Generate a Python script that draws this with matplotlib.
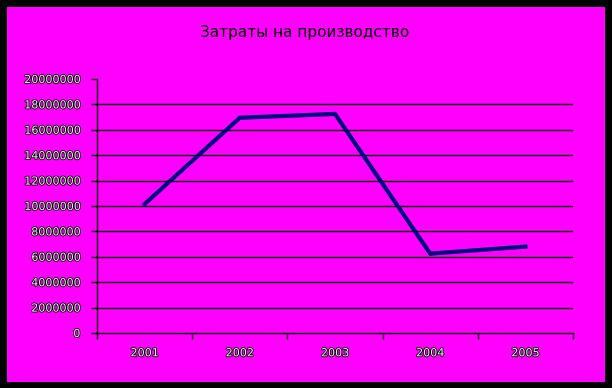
import matplotlib
matplotlib.use("Agg")
import matplotlib.pyplot as plt
import matplotlib.patheffects as pe
from matplotlib.patches import Rectangle

years = ["2001", "2002", "2003", "2004", "2005"]
costs = [10150000, 16950000, 17250000, 6250000, 6800000]
yticks = list(range(0, 20000001, 2000000))
title = "Затраты на производство"

W, H = 612, 388
fig = plt.figure(figsize=(W / 100, H / 100), dpi=100)
fig.patch.set_facecolor("black")
fig.add_artist(Rectangle((7 / W, 1 - 382 / H), (605 - 7) / W, (382 - 7) / H,
                         transform=fig.transFigure, facecolor="#ff00ff",
                         edgecolor="none", zorder=0))

ax = fig.add_axes([97 / W, 1 - 333 / H, (573 - 97) / W, (333 - 79) / H])
ax.set_facecolor("none")
x = list(range(1, len(years) + 1))
ax.plot(x, costs, color="#000080", lw=3, solid_joinstyle="miter", zorder=3)

ax.set_xlim(0.5, len(years) + 0.5)
ax.set_ylim(0, 20000000)
ax.set_yticks(yticks)
ax.set_yticklabels([str(v) for v in yticks])
for v in yticks[1:-1]:
    ax.axhline(v, color="black", lw=1, zorder=1)

ax.set_xticks(x)
ax.set_xticklabels(years)
ax.set_xticks([i + 0.5 for i in range(0, len(years) + 1)], minor=True)
ax.tick_params(axis="x", which="major", length=0, pad=11)
ax.tick_params(axis="x", which="minor", length=4, width=1, color="black")
ax.tick_params(axis="y", length=4, width=1, color="black", pad=8)
for s in ["top", "right"]:
    ax.spines[s].set_visible(False)
for s in ["left", "bottom"]:
    ax.spines[s].set_color("black")
    ax.spines[s].set_linewidth(1)

effects = [pe.withStroke(linewidth=1.2, foreground="black")]
for lbl in ax.get_xticklabels() + ax.get_yticklabels():
    lbl.set_fontsize(8)
    lbl.set_color("#f0f0f0")
    lbl.set_path_effects(effects)

fig.text(305 / W, 1 - 32 / H, title, ha="center", va="center", fontsize=11,
         color="black")

fig.savefig("out.png", dpi=100, facecolor=fig.get_facecolor())
